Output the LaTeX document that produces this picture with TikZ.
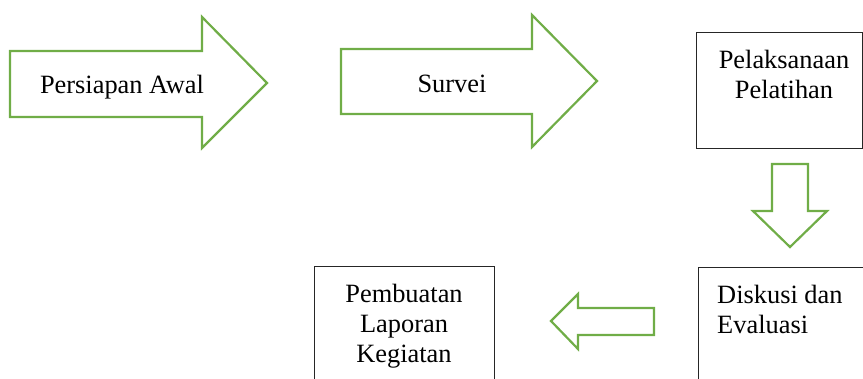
\documentclass[tikz,border=0pt]{standalone}
\usepackage{fontspec}
\setmainfont{Liberation Serif}
\definecolor{arrowgreen}{HTML}{70AD47}
\begin{document}
\begin{tikzpicture}[x=1pt,y=-1pt,
  bigarrow/.style={draw=arrowgreen,line width=2.2pt,fill=white,line join=miter},
  boxframe/.style={draw=black!85,line width=1pt},
  lbl/.style={font=\fontsize{26.4}{30}\selectfont,inner sep=0pt,anchor=base,align=center},
  lblleft/.style={font=\fontsize{26.4}{30}\selectfont,inner sep=0pt,anchor=base west,align=left}]
\useasboundingbox (0,0) rectangle (863,378);
% big right arrows
\draw[bigarrow] (10,51) -- (202,51) -- (202,17) -- (267,83) -- (202,148) -- (202,117) -- (10,117) -- cycle;
\draw[bigarrow] (341,49) -- (532,49) -- (532,15) -- (597,81) -- (532,147) -- (532,114) -- (341,114) -- cycle;
% down arrow
\draw[bigarrow] (772,164) -- (808,164) -- (808,211) -- (827,211) -- (790,247) -- (753,211) -- (772,211) -- cycle;
% left arrow
\draw[bigarrow] (654,308) -- (578,308) -- (578,294) -- (551,321) -- (578,349) -- (578,335) -- (654,335) -- cycle;
% boxes
\draw[boxframe] (696,32) rectangle (862,148);
\draw[boxframe] (698,390) -- (698,267) -- (870,267);
\draw[boxframe] (314,390) -- (314,266) -- (494,266) -- (494,390);
% labels
\node[lbl] (awal) at (122,93) {Persiapan Awal};
\node[lbl] (survei) at (452,92) {Survei};
\node[lbl] (pelaksanaan) at (784,98) {Pelaksanaan\\Pelatihan};
\node[lblleft] (diskusi) at (717,333) {Diskusi dan\\Evaluasi};
\node[lbl] (laporan) at (404,362) {Pembuatan\\Laporan\\Kegiatan};
\end{tikzpicture}
\end{document}
